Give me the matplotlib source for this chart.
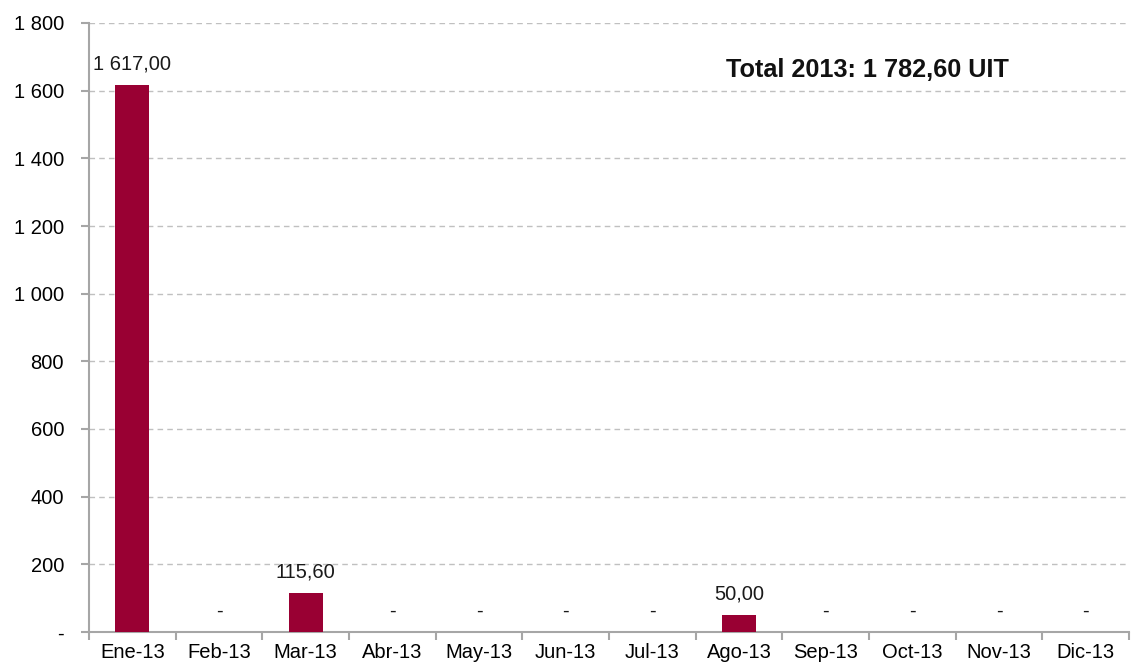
import numpy as np
import matplotlib.pyplot as plt
from matplotlib.ticker import FuncFormatter, FixedLocator

plt.rcParams['font.family'] = ['Liberation Sans', 'DejaVu Sans']

meses = ['Ene-13', 'Feb-13', 'Mar-13', 'Abr-13', 'May-13', 'Jun-13',
         'Jul-13', 'Ago-13', 'Sep-13', 'Oct-13', 'Nov-13', 'Dic-13']
valores = [1617.00, 0, 115.60, 0, 0, 0, 0, 50.00, 0, 0, 0, 0]
total_txt = 'Total 2013: 1 782,60 UIT'
yticks = [0, 200, 400, 600, 800, 1000, 1200, 1400, 1600, 1800]

bar_color = '#990033'
axis_color = '#a6a6a6'
fs = 14.5


def fmt_num(v, dec=2):
    if v == 0:
        return '-'
    s = f'{v:,.{dec}f}'
    return s.replace(',', ' ').replace('.', ',')


fig = plt.figure(figsize=(11.31, 6.67), dpi=100)
ax = fig.add_axes([89 / 1131, 35 / 667, 1040 / 1131, 609 / 667])

x = np.arange(len(meses))
ax.bar(x, valores, width=0.39, color=bar_color, zorder=3)

for xi, v in zip(x, valores):
    ax.annotate(fmt_num(v), (xi, v), xytext=(0, 8), textcoords='offset points',
                ha='center', va='bottom', fontsize=fs, color='#1a1a1a')

ax.set_xlim(-0.5, len(meses) - 0.5)
ax.set_ylim(0, 1800)
ax.set_yticks(yticks)
ax.yaxis.set_major_formatter(FuncFormatter(lambda v, p: fmt_num(v, 0)))
ax.yaxis.grid(True, linestyle=(0, (4, 3)), color='#c0c0c0', linewidth=1.0, zorder=0)

# category labels centered, tick marks on the boundaries
ax.set_xticks(x)
ax.set_xticklabels(meses)
ax.tick_params(axis='x', which='major', length=0, pad=8, labelsize=fs)
ax.xaxis.set_minor_locator(FixedLocator(np.arange(-0.5, len(meses), 1.0)))
ax.tick_params(axis='x', which='minor', length=6, width=1.5, color=axis_color, direction='out')
ax.tick_params(axis='y', length=6, width=1.5, color=axis_color, pad=12, labelsize=fs)

for s in ['top', 'right']:
    ax.spines[s].set_visible(False)
for s in ['left', 'bottom']:
    ax.spines[s].set_color(axis_color)
    ax.spines[s].set_linewidth(1.5)

ax.text(8.48, 1660, total_txt, ha='center', va='center', fontsize=18.2,
        fontweight='bold', color='#111111')

fig.savefig('out.png', dpi=100)
